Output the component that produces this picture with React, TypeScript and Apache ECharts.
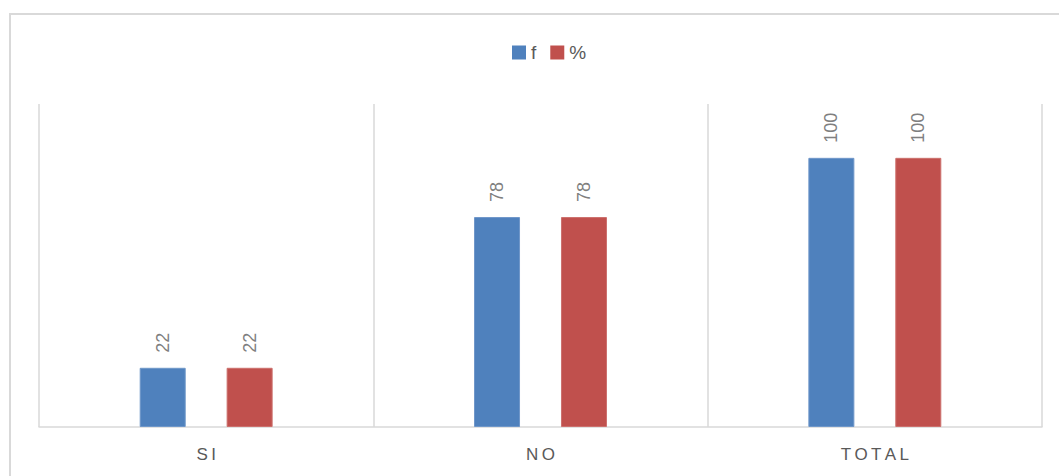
import React, { useEffect, useRef } from "react";
import * as echarts from "echarts";

const categories = ["SI", "NO", "TOTAL"];
const seriesNames = ["f", "%"];
const fValues = [22, 78, 100];
const pctValues = [22, 78, 100];

const spaced = (s: string) => s.split("").join("\u2009");

export default function App() {
  const ref = useRef<HTMLDivElement>(null);
  useEffect(() => {
    if (!ref.current) return;
    const chart = echarts.init(ref.current, undefined, { renderer: "svg" });
    const labelCfg = {
      show: true,
      position: "top",
      rotate: 90,
      align: "left",
      verticalAlign: "middle",
      distance: 15,
      color: "#7f7f7f",
      fontSize: 18,
      fontFamily: "Liberation Sans, Arial, sans-serif",
    };
    chart.setOption({
      animation: false,
      backgroundColor: "#ffffff",
      graphic: [
        {
          type: "rect",
          shape: { x: 10, y: 14, width: 1100, height: 520 },
          style: { fill: "none", stroke: "#d9d9d9", lineWidth: 2 },
          silent: true,
          z: -10,
        },
      ],
      legend: {
        data: seriesNames,
        left: 507,
        top: 38,
        itemWidth: 14,
        itemHeight: 14,
        itemGap: 14,
        icon: "rect",
        itemStyle: { borderWidth: 0 },
        textStyle: {
          color: "#595959",
          fontSize: 19,
          fontFamily: "Liberation Sans, Arial, sans-serif",
        },
      },
      grid: { left: 39, right: 17, top: 104, bottom: 49 },
      xAxis: {
        type: "category",
        data: categories,
        axisLine: { show: true, lineStyle: { color: "#d9d9d9", width: 1.5 } },
        axisTick: { show: false },
        splitLine: { show: true, lineStyle: { color: "#d9d9d9", width: 1.5 } },
        axisLabel: {
          color: "#595959",
          fontSize: 17,
          margin: 19,
          fontFamily: "Liberation Sans, Arial, sans-serif",
          formatter: (v: string) => spaced(v),
        },
      },
      yAxis: {
        type: "value",
        min: 0,
        max: 120,
        show: false,
        splitLine: { show: false },
      },
      series: [
        {
          name: seriesNames[0],
          type: "bar",
          data: fValues,
          barWidth: 46,
          barGap: "89%",
          itemStyle: { color: "#4f81bd", borderColor: "#6f97c9", borderWidth: 1 },
          label: labelCfg,
        },
        {
          name: seriesNames[1],
          type: "bar",
          data: pctValues,
          barWidth: 46,
          barGap: "89%",
          itemStyle: { color: "#c0504d", borderColor: "#cc706d", borderWidth: 1 },
          label: labelCfg,
        },
      ],
    });
    return () => chart.dispose();
  }, []);
  return (
    <div
      ref={ref}
      style={{ position: "fixed", left: 0, top: 0, width: 1059, height: 476 }}
    />
  );
}
